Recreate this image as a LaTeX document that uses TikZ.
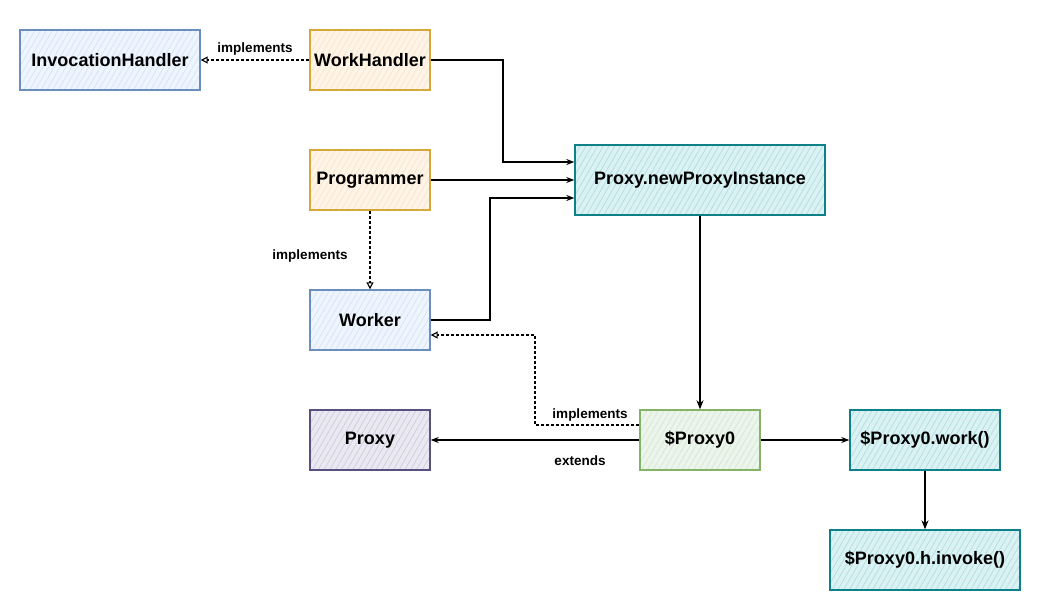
\documentclass[tikz,border=0pt]{standalone}
\usepackage{fontspec}
\setmainfont{Liberation Sans}
\usetikzlibrary{arrows.meta,patterns.meta}
\definecolor{bluefill}{HTML}{DAE8FC}\definecolor{bluedraw}{HTML}{6C8EBF}
\definecolor{orfill}{HTML}{FFE6CC}\definecolor{ordraw}{HTML}{D6A83A}
\definecolor{tealfill}{HTML}{B0E3E6}\definecolor{tealdraw}{HTML}{0E8088}
\definecolor{purfill}{HTML}{D0CEE2}\definecolor{purdraw}{HTML}{56517E}
\definecolor{grfill}{HTML}{D5E8D4}\definecolor{grdraw}{HTML}{82B366}
\tikzset{
  box/.style={draw=#1draw, line width=1.4pt, minimum width=120pt, minimum height=60pt,
    inner sep=0pt, font=\fontsize{18}{21}\selectfont\bfseries,
    preaction={fill=#1fill!45},
    preaction={pattern={Lines[angle=60,distance=5pt,line width=0.7pt]}, pattern color=#1fill!80!#1draw!70}},
  lab/.style={font=\fontsize{13.5}{16}\selectfont\bfseries, inner sep=1pt},
  conn/.style={line width=1.1pt, -{Stealth[length=8pt,width=6pt,open]}},
  impl/.style={line width=1.1pt, dash pattern=on 3pt off 2pt, -{Triangle[open,length=7pt,width=7pt]}},
}
\begin{document}
\begin{tikzpicture}[x=1pt,y=-1pt]
\useasboundingbox (0,0) rectangle (1041,611);
\node[box=blue, minimum width=180pt] (ih) at (110,60) {InvocationHandler};
\node[box=or] (wh) at (370,60) {WorkHandler};
\node[box=or] (pg) at (370,180) {Programmer};
\node[box=teal, minimum width=250pt, minimum height=70pt] (np) at (700,180) {Proxy.newProxyInstance};
\node[box=blue] (wk) at (370,320) {Worker};
\node[box=pur] (px) at (370,440) {Proxy};
\node[box=gr] (p0) at (700,440) {\$Proxy0};
\node[box=teal, minimum width=150pt] (pw) at (925,440) {\$Proxy0.work()};
\node[box=teal, minimum width=190pt] (pi) at (925,560) {\$Proxy0.h.invoke()};

\draw[impl] (wh.west) -- node[lab, above=3pt] {implements} (ih.east);
\draw[conn] (wh.east) -| (503,162) -- (np.west |- 0,162);
\draw[conn] (pg.east) -- (np.west);
\draw[conn] (wk.east) -| (490,198) -- (np.west |- 0,198);
\draw[impl] (pg.south) -- (wk.north);
\node[lab] (l1) at (310,256) {implements};
\draw[conn, -{Stealth[length=9pt,width=7pt]}] (np.south) -- (p0.north);
\draw[conn] (p0.west) -- (px.east);
\node[lab] (l2) at (580,461) {extends};
\draw[impl] (p0.west |- 0,425) -| (535,335) -- (wk.east |- 0,335);
\node[lab] (l3) at (590,415) {implements};
\draw[conn] (p0.east) -- (pw.west);
\draw[conn, -{Stealth[length=9pt,width=7pt]}] (pw.south) -- (pi.north);
\end{tikzpicture}
\end{document}
